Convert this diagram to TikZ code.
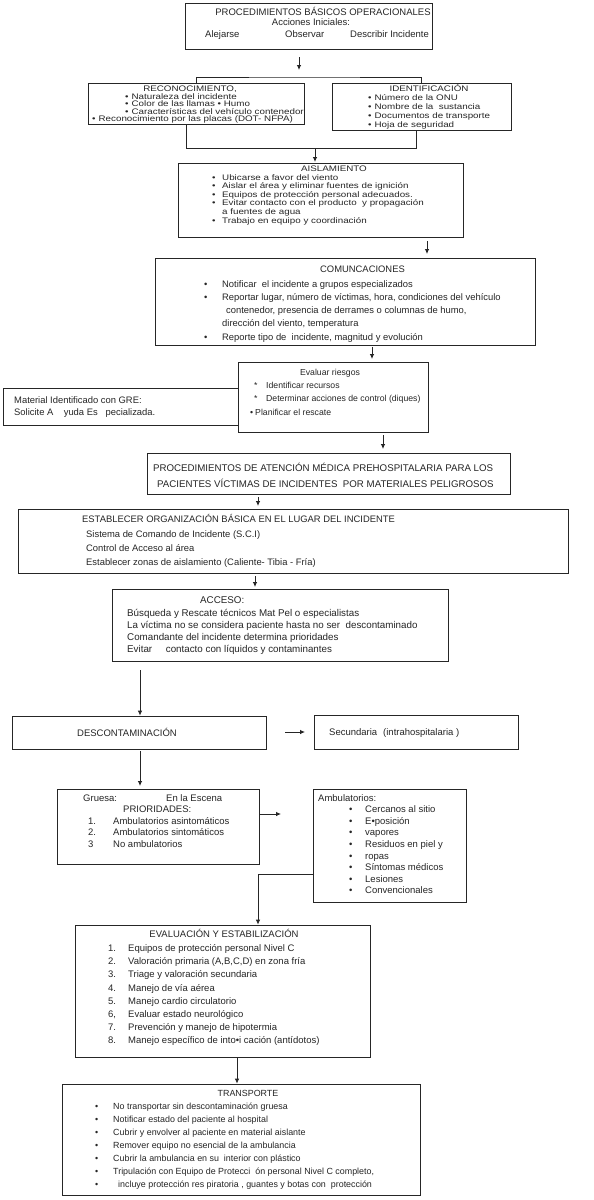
\documentclass[tikz,border=0pt]{standalone}
\usepackage{graphicx}
\usepackage{fontspec}
\setmainfont{Liberation Sans}
\usetikzlibrary{arrows.meta}
\newcount\lnum
\tikzset{
  box/.style={draw=black!85, line width=0.8pt, inner sep=0pt},
  conn/.style={draw=black!85, line width=0.8pt},
  arr/.style={conn, -{Latex[length=5pt,width=4.5pt]}},
  tx/.style={inner sep=0pt, anchor=base west, font=\fontsize{8.9}{10}\selectfont, text=black!85},
  tc/.style={tx, anchor=base},
  ux/.style={tx, font=\fontsize{9.8}{10}\selectfont},
  uc/.style={ux, anchor=base},
  px/.style={tx, font=\fontsize{9.5}{10}\selectfont},
  pc/.style={px, anchor=base},
  mx/.style={tx, font=\fontsize{9.4}{10}\selectfont},
  rx/.style={tx, font=\fontsize{8.7}{10}\selectfont},
  rc/.style={rx, anchor=base},
  ax/.style={tx, font=\fontsize{9.8}{10}\selectfont},
  ex/.style={tx, font=\fontsize{9.5}{10}\selectfont},
  ec/.style={ex, anchor=base},
}
\newcommand\mkbox[5]{\node[box, minimum width={(#4)-(#2)}, minimum height={(#5)-(#3)}] (#1) at ({((#2)+(#4))/2},{((#3)+(#5))/2}) {};}
\newcommand\tline[4][tx]{\global\advance\lnum by 1 \node[#1] (t\the\lnum) at (#2,#3) {#4};}
\newcommand\uline[4][ux]{\tline[#1]{#2}{#3}{\scalebox{1}[0.82]{#4}}}
\begin{document}
\begin{tikzpicture}[x=1pt,y=-1pt]
\fill[white] (0,0) rectangle (594,1200);
\useasboundingbox (0,0) rectangle (594,1200);

% ---------- boxes ----------
\mkbox{pbo}{185}{3}{432}{49}
\mkbox{recon}{88}{83}{304}{124}
\mkbox{ident}{332}{83}{511}{130}
\mkbox{aisl}{178}{163}{463}{237}
\mkbox{com}{155}{258}{535}{345}
\mkbox{evr}{238}{362}{428}{432}
\mkbox{mat}{3}{388}{238}{425}
\mkbox{proc}{147}{453}{510}{494}
\mkbox{est}{18}{509}{568}{573}
\mkbox{acc}{112}{589}{448}{661}
\mkbox{desc}{12}{716}{266}{749}
\mkbox{sec}{314}{715}{518}{749}
\mkbox{gru}{57}{789}{259}{864}
\mkbox{amb}{313}{789}{466}{902}
\mkbox{eval}{75}{925}{370}{1057}
\mkbox{trans}{62}{1084}{420}{1195}

% ---------- connectors ----------
\coordinate (a1s) at (299,57); \coordinate (a1e) at (299,70);
\draw[arr] (a1s) -- (a1e);
\coordinate (bar) at (300,77);
\draw[conn] (recon.north) |- (bar) -| (ident.north);
\coordinate (jl) at (186,148); \coordinate (jr) at (416,148);
\draw[conn] (jl |- recon.south) -- (jl) -- (jr) -- (jr |- ident.south);
\coordinate (a2s) at (315,148); \coordinate (a2e) at (315,162);
\draw[arr] (a2s) -- (a2e);
\coordinate (a3s) at (427,241); \coordinate (a3e) at (427,254);
\draw[arr] (a3s) -- (a3e);
\coordinate (a4s) at (372,347); \coordinate (a4e) at (372,359);
\draw[arr] (a4s) -- (a4e);
\coordinate (a5s) at (383,435); \coordinate (a5e) at (383,449);
\draw[arr] (a5s) -- (a5e);
\coordinate (a6s) at (258,497); \coordinate (a6e) at (258,506);
\draw[arr] (a6s) -- (a6e);
\coordinate (a7s) at (255,576); \coordinate (a7e) at (255,587);
\draw[arr] (a7s) -- (a7e);
\coordinate (a8s) at (140,670);
\draw[arr] (a8s) -- (a8s |- desc.north);
\coordinate (a9s) at (285,732); \coordinate (a9e) at (305,732);
\draw[arr] (a9s) -- (a9e);
\coordinate (a10s) at (140,751); \coordinate (a10e) at (140,786);
\draw[arr] (a10s) -- (a10e);
\coordinate (a11s) at (259,814); \coordinate (a11e) at (281,814);
\draw[arr] (a11s) -- (a11e);
\coordinate (k1) at (313,874); \coordinate (k2) at (258,874);
\draw[arr] (k1) -- (k2) -- (k2 |- eval.north);
\coordinate (a12s) at (237,1057);
\draw[arr] (a12s) -- (a12s |- trans.north);

% ---------- texts ----------
% PBO
\tline[pc]{323}{15}{PROCEDIMIENTOS BÁSICOS OPERACIONALES}
\tline[pc]{311}{25}{Acciones Iniciales:}
\tline[px]{205}{37}{Alejarse}
\tline[px]{285}{37}{Observar}
\tline[px]{350}{37}{Describir Incidente}
% RECON
\uline[uc]{190}{91}{RECONOCIMIENTO,}
\uline{125}{99}{•\hspace{3pt}Naturaleza del incidente}
\uline{125}{106.5}{•\hspace{3pt}Color de las llamas • Humo}
\uline{125}{114}{•\hspace{3pt}Características del vehículo contenedor}
\uline{92}{121.5}{•\hspace{3pt}Reconocimiento por las placas (DOT- NFPA)}
% IDENT
\uline[uc]{429}{91}{IDENTIFICACIÓN}
\uline{368}{100}{•\hspace{3pt}Número de la ONU}
\uline{368}{109}{•\hspace{3pt}Nombre de la\ \ sustancia}
\uline{368}{118}{•\hspace{3pt}Documentos de transporte}
\uline{368}{127}{•\hspace{3pt}Hoja de seguridad}
% AISL
\uline[uc]{334}{171}{AISLAMIENTO}
\uline{212}{180}{•}\uline{222}{180}{Ubicarse a favor del viento}
\uline{212}{188.5}{•}\uline{222}{188.5}{Aislar el área y eliminar fuentes de ignición}
\uline{212}{197}{•}\uline{222}{197}{Equipos de protección personal adecuados.}
\uline{212}{205.5}{•}\uline{222}{205.5}{Evitar contacto con el producto\ \ y propagación}
\uline{222}{214}{a fuentes de agua}
\uline{212}{223}{•}\uline{222}{223}{Trabajo en equipo y coordinación}
% COM
\tline[mx]{320}{272}{COMUNCACIONES}
\tline[mx]{204}{287}{•}\tline[mx]{222}{287}{Notificar\ \ el incidente a grupos especializados}
\tline[mx]{204}{300}{•}\tline[mx]{222}{300}{Reportar lugar, número de víctimas, hora, condiciones del vehículo}
\tline[mx]{226}{313}{contenedor, presencia de derrames o columnas de humo,}
\tline[mx]{222}{326}{dirección del viento, temperatura}
\tline[mx]{204}{340}{•}\tline[mx]{222}{340}{Reporte tipo de\ \ incidente, magnitud y evolución}
% EVR
\tline[rc]{330}{375}{Evaluar riesgos}
\tline[rx]{254}{388}{*}\tline[rx]{266}{388}{Identificar recursos}
\tline[rx]{254}{401}{*}\tline[rx]{266}{401}{Determinar acciones de control (diques)}
\tline[rx]{250}{415}{•\hspace{2pt}Planificar el rescate}
% MAT
\tline[mx]{14}{403}{Material Identificado con GRE:}
\tline[mx]{14}{415}{Solicite A\ \ \ \ yuda Es\ \ \ pecializada.}
% PROC
\tline[tx,font=\fontsize{9.7}{10}\selectfont]{153}{471}{PROCEDIMIENTOS DE ATENCIÓN MÉDICA PREHOSPITALARIA PARA LOS}
\tline[tx,font=\fontsize{9.7}{10}\selectfont]{157}{487}{PACIENTES VÍCTIMAS DE INCIDENTES\ \ POR MATERIALES PELIGROSOS}
% EST
\tline[mx]{82}{522}{ESTABLECER ORGANIZACIÓN BÁSICA EN EL LUGAR DEL INCIDENTE}
\tline[mx]{86}{537}{Sistema de Comando de Incidente (S.C.I)}
\tline[mx]{86}{551}{Control de Acceso al área}
\tline[mx]{86}{565}{Establecer zonas de aislamiento (Caliente- Tibia - Fría)}
% ACC
\tline[ax]{200}{603}{ACCESO:}
\tline[ax]{127}{616}{Búsqueda y Rescate técnicos Mat Pel o especialistas}
\tline[ax]{127}{628}{La víctima no se considera paciente hasta no ser\ \ descontaminado}
\tline[ax]{127}{640}{Comandante del incidente determina prioridades}
\tline[ax]{127}{652}{Evitar\ \ \ \ \ contacto con líquidos y contaminantes}
% DESC / SEC
\tline[px]{77}{736}{DESCONTAMINACIÓN}
\tline[px]{329}{735}{Secundaria}
\tline[px]{383}{735}{(intrahospitalaria )}
% GRU
\tline[px]{83}{801}{Gruesa:}
\tline[px]{166}{801}{En la Escena}
\tline[px]{123}{812.6}{PRIORIDADES:}
\tline[px]{88}{824.2}{1.}\tline[px]{113}{824.2}{Ambulatorios asintomáticos}
\tline[px]{88}{835.8}{2.}\tline[px]{113}{835.8}{Ambulatorios sintomáticos}
\tline[px]{88}{847.4}{3}\tline[px]{113}{847.4}{No ambulatorios}
% AMB
\tline[px]{318}{801}{Ambulatorios:}
\tline[px]{349}{812.6}{•}\tline[px]{365}{812.6}{Cercanos al sitio}
\tline[px]{349}{824.2}{•}\tline[px]{365}{824.2}{E•posición}
\tline[px]{349}{835.8}{•}\tline[px]{365}{835.8}{vapores}
\tline[px]{349}{847.4}{•}\tline[px]{365}{847.4}{Residuos en piel y}
\tline[px]{349}{859}{•}\tline[px]{365}{859}{ropas}
\tline[px]{349}{870.6}{•}\tline[px]{365}{870.6}{Síntomas médicos}
\tline[px]{349}{882.2}{•}\tline[px]{365}{882.2}{Lesiones}
\tline[px]{349}{893.8}{•}\tline[px]{365}{893.8}{Convencionales}
% EVAL
\tline[ec]{224}{937}{EVALUACIÓN Y ESTABILIZACIÓN}
\tline[ex]{108}{951}{1.}\tline[ex]{128}{951}{Equipos de protección personal Nivel C}
\tline[ex]{108}{964}{2.}\tline[ex]{128}{964}{Valoración primaria (A,B,C,D) en zona fría}
\tline[ex]{108}{977}{3.}\tline[ex]{128}{977}{Triage y valoración secundaria}
\tline[ex]{108}{991}{4.}\tline[ex]{128}{991}{Manejo de vía aérea}
\tline[ex]{108}{1004}{5.}\tline[ex]{128}{1004}{Manejo cardio circulatorio}
\tline[ex]{108}{1017}{6,}\tline[ex]{128}{1017}{Evaluar estado neurológico}
\tline[ex]{108}{1030}{7.}\tline[ex]{128}{1030}{Prevención y manejo de hipotermia}
\tline[ex]{108}{1043}{8.}\tline[ex]{128}{1043}{Manejo específico de into•i cación (antídotos)}
% TRANS
\tline[tc]{248}{1096}{TRANSPORTE}
\tline{95}{1109}{•}\tline{113}{1109}{No transportar sin descontaminación gruesa}
\tline{95}{1122}{•}\tline{113}{1122}{Notificar estado del paciente al hospital}
\tline{95}{1135}{•}\tline{113}{1135}{Cubrir y envolver al paciente en material aislante}
\tline{95}{1148}{•}\tline{113}{1148}{Remover equipo no esencial de la ambulancia}
\tline{95}{1161}{•}\tline{113}{1161}{Cubrir la ambulancia en su\ \ interior con plástico}
\tline{95}{1174}{•}\tline{113}{1174}{Tripulación con Equipo de Protecci\ \ ón personal Nivel C completo,}
\tline{95}{1187}{•}\tline{118}{1187}{incluye protección res piratoria , guantes y botas con\ \ protección}
\end{tikzpicture}
\end{document}
